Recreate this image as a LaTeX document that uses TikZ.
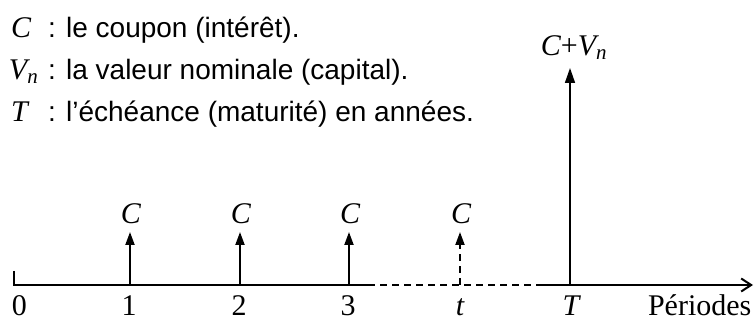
\documentclass[tikz,border=0pt]{standalone}
\usepackage{fontspec}
\setmainfont{Liberation Serif}
\setsansfont{Liberation Sans}
\usetikzlibrary{arrows.meta}

\tikzset{
    lbl/.style={font=\fontsize{30}{32}\selectfont, inner sep=0pt},
    txt/.style={font=\sffamily\fontsize{28}{30}\selectfont, inner sep=0pt, anchor=base west},
    coupon/.style={line width=2pt, -{Triangle[length=13pt, width=9pt]}},
    final/.style={line width=1.6pt, -{Triangle[length=15pt, width=10pt]}},
    dashline/.style={dash pattern=on 7pt off 5pt},
}

\begin{document}
\begin{tikzpicture}[x=1pt, y=1pt, line width=2pt]
    \useasboundingbox (0,0) rectangle (754,321);
    % Legend
    \node[lbl, anchor=base west] (symC) at (10,283) {\itshape C};
    \node[txt] (defC) at (47,283) {: le coupon (intérêt).};
    \node[lbl, anchor=base west] (symV) at (8,241) {\itshape V\textsubscript{n}};
    \node[txt] (defV) at (47,241) {: la valeur nominale (capital).};
    \node[lbl, anchor=base west] (symT) at (10,199) {\itshape T};
    \node[txt] (defT) at (47,199) {: l’échéance (maturité) en années.};
    % Time axis
    \coordinate (tick) at (14,50);
    \coordinate (p0) at (14,36);
    \coordinate (p1) at (130,36);
    \coordinate (p2) at (240,36);
    \coordinate (p3) at (349,36);
    \coordinate (pt) at (460,36);
    \coordinate (pT) at (570,36);
    \coordinate (dashA) at (368,36);
    \coordinate (dashB) at (540,36);
    \coordinate (pend) at (753,36);
    \draw (tick) -- (p0) -- (dashA);
    \draw[dashline] (dashA) -- (dashB);
    \draw[-{Straight Barb[length=10pt, width=13pt]}] (dashB) -- (pend);
    % Period labels
    \node[lbl, anchor=base west] (n0) at (11,6) {0};
    \node[lbl, anchor=base] (n1) at (129,6) {1};
    \node[lbl, anchor=base] (n2) at (239,6) {2};
    \node[lbl, anchor=base] (n3) at (348,6) {3};
    \node[lbl, anchor=base] (nt) at (460,6) {\itshape t};
    \node[lbl, anchor=base] (nT) at (571,6) {\itshape T};
    \node[lbl, anchor=base west] (per) at (647,6) {Périodes};
    % Coupons
    \node[lbl, anchor=base] (c1) at (131,97) {\itshape C};
    \node[lbl, anchor=base] (c2) at (241,97) {\itshape C};
    \node[lbl, anchor=base] (c3) at (350,97) {\itshape C};
    \node[lbl, anchor=base] (ct) at (461,97) {\itshape C};
    \draw[coupon] (p1) -- ([yshift=-8pt]c1.base -| p1);
    \draw[coupon] (p2) -- ([yshift=-8pt]c2.base -| p2);
    \draw[coupon] (p3) -- ([yshift=-8pt]c3.base -| p3);
    \draw[coupon, dashline] (pt) -- ([yshift=-8pt]ct.base -| pt);
    % Last flow
    \node[lbl, anchor=base] (cv) at (574,265) {{\itshape C}+{\itshape V\textsubscript{n}}};
    \draw[final] (pT) -- ([yshift=-12pt]cv.base -| pT);
\end{tikzpicture}
\end{document}
